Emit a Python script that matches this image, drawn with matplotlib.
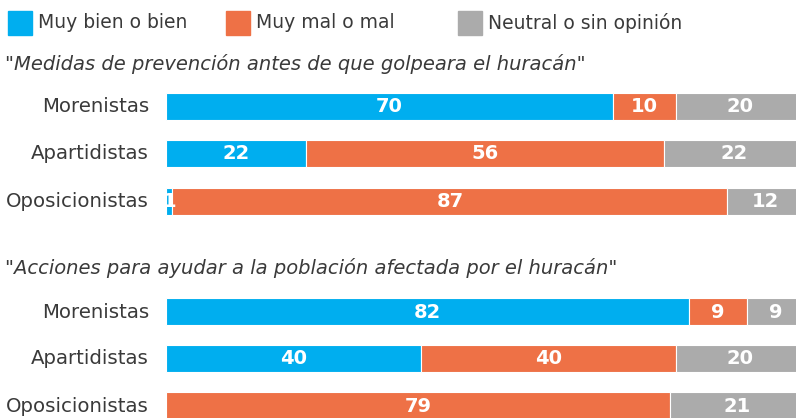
import numpy as np
import matplotlib.pyplot as plt
from matplotlib.patches import Rectangle

# datos
grupos = ["Morenistas", "Apartidistas", "Oposicionistas"]
titulos = ['"Medidas de prevención antes de que golpeara el huracán"',
           '"Acciones para ayudar a la población afectada por el huracán"']
series = ["Muy bien o bien", "Muy mal o mal", "Neutral o sin opinión"]
bien_1 = [70, 22, 1]
mal_1 = [10, 56, 87]
neutral_1 = [20, 22, 12]
bien_2 = [82, 40, 0]
mal_2 = [9, 40, 79]
neutral_2 = [9, 20, 21]

colores = ["#00AEEF", "#EE7146", "#ABABAB"]

W, H = 796, 418
fig = plt.figure(figsize=(W/100, H/100), dpi=100)
fig.patch.set_facecolor("white")

# eje: 0..100 horizontal (la barra sigue un poco fuera del borde), pixeles en vertical
x0 = 166
ancho_100 = 638
ax = fig.add_axes([x0/W, 0, ancho_100/W, 1])
ax.set_xlim(0, 100)
ax.set_ylim(H, 0)
ax.axis("off")

fuente = "DejaVu Sans"
gris_texto = "#3a3a3a"
centros = [[106.5, 153, 201], [311.5, 358.5, 405.5]]
alto = 27

datos = [(bien_1, mal_1, neutral_1), (bien_2, mal_2, neutral_2)]
for g, (b, m, n) in enumerate(datos):
    ys = np.array(centros[g])
    izq = np.zeros(3)
    for k, vals in enumerate((b, m, n)):
        vals = np.array(vals, dtype=float)
        ax.barh(ys, vals, left=izq, height=alto, color=colores[k],
                edgecolor="white", linewidth=0.8)
        for y, l, v in zip(ys, izq, vals):
            if v <= 0:
                continue
            xc = l + v/2
            ax.text(xc, y + 0.5, f"{int(v)}", color="white", ha="center",
                    va="center", fontsize=14, fontweight="bold", family=fuente)
        izq = izq + vals
    for y, nombre in zip(ys, grupos):
        fig.text((x0 - 17)/W, 1 - (y + 0.5)/H, nombre, ha="right", va="center",
                 fontsize=14.2, color=gris_texto, family=fuente)

fig.text(5/W, 1 - 64/H, titulos[0], ha="left", va="center", fontsize=14,
         style="italic", color=gris_texto, family=fuente)
fig.text(5/W, 1 - 268/H, titulos[1], ha="left", va="center", fontsize=14,
         style="italic", color=gris_texto, family=fuente)

# leyenda
pos_leyenda = [8, 226, 458]
for px, nombre, c in zip(pos_leyenda, series, colores):
    fig.patches.append(Rectangle((px/W, 1 - 35/H), 24/W, 24/H,
                                 transform=fig.transFigure, color=c))
    fig.text((px + 30)/W, 1 - 23/H, nombre, ha="left", va="center",
             fontsize=13.5, color=gris_texto, family=fuente)

fig.savefig("out.png", dpi=100)
